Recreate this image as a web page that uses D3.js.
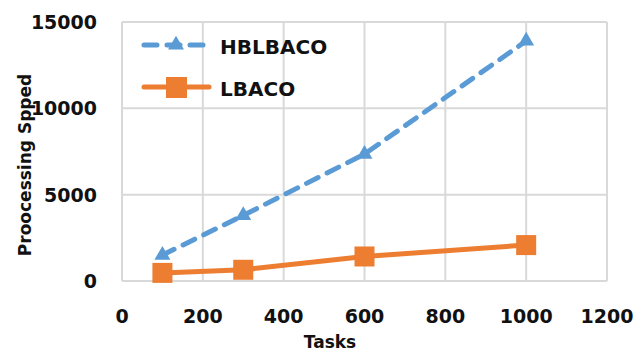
<!DOCTYPE html>
<html>
<head>
<script src="https://d3js.org/d3.v7.min.js"></script>
<style>
  body { margin: 0; background: #fff; }
  text { font-family: "DejaVu Sans", "Open Sans", sans-serif; font-weight: 700; fill: #111; }
</style>
</head>
<body>
<div id="chart"></div>
<script>
// data
var tasks = [100, 300, 600, 1000];
var hblbaco = [1500, 3800, 7350, 13900];
var lbaco = [470, 650, 1420, 2080];
var xTicks = [0, 200, 400, 600, 800, 1000, 1200];
var yTicks = [0, 5000, 10000, 15000];

var width = 637, height = 353;
var margin = {top: 22, right: 30, bottom: 72, left: 122};

var svg = d3.select("#chart").append("svg")
    .attr("width", width)
    .attr("height", height);

var x = d3.scaleLinear().domain([0, 1200]).range([margin.left, 607]);
var y = d3.scaleLinear().domain([0, 15000]).range([281, margin.top]);

// grid
svg.append("g")
  .selectAll("line")
  .data(xTicks)
  .enter().append("line")
    .attr("x1", d => x(d)).attr("x2", d => x(d))
    .attr("y1", y(0)).attr("y2", y(15000))
    .attr("stroke", "#d9d9d9").attr("stroke-width", 2);

svg.append("g")
  .selectAll("line")
  .data(yTicks)
  .enter().append("line")
    .attr("x1", x(0)).attr("x2", x(1200))
    .attr("y1", d => y(d)).attr("y2", d => y(d))
    .attr("stroke", "#d9d9d9").attr("stroke-width", 2);

// tick labels
svg.append("g")
  .selectAll("text")
  .data(xTicks)
  .enter().append("text")
    .attr("x", d => x(d))
    .attr("y", 323)
    .attr("text-anchor", "middle")
    .style("font-size", "19px")
    .text(d => d);

svg.append("g")
  .selectAll("text")
  .data(yTicks)
  .enter().append("text")
    .attr("x", 97)
    .attr("y", d => y(d) + 7)
    .attr("text-anchor", "end")
    .style("font-size", "19px")
    .text(d => d);

// axis titles
svg.append("text")
    .attr("x", 330)
    .attr("y", 348)
    .attr("text-anchor", "middle")
    .style("font-size", "17px")
    .text("Tasks");

svg.append("text")
    .attr("transform", "translate(31,165) rotate(-90)")
    .attr("text-anchor", "middle")
    .style("font-size", "17px")
    .text("Proocessing Spped");

var line = d3.line().x((d, i) => x(tasks[i])).y(d => y(d));

var blue = "#5b9bd5", orange = "#ed7d31";
var tri = d3.symbol().type(d3.symbolTriangle).size(110);

// HBLBACO
svg.append("path")
    .datum(hblbaco)
    .attr("d", line)
    .attr("fill", "none")
    .attr("stroke", blue)
    .attr("stroke-width", 5)
    .attr("stroke-dasharray", "13,10")
    .attr("stroke-linecap", "round");

svg.append("g")
  .selectAll("path")
  .data(hblbaco)
  .enter().append("path")
    .attr("d", tri)
    .attr("transform", (d, i) => "translate(" + x(tasks[i]) + "," + y(d) + ")")
    .attr("fill", blue);

// LBACO
svg.append("path")
    .datum(lbaco)
    .attr("d", line)
    .attr("fill", "none")
    .attr("stroke", orange)
    .attr("stroke-width", 5);

svg.append("g")
  .selectAll("rect")
  .data(lbaco)
  .enter().append("rect")
    .attr("x", (d, i) => x(tasks[i]) - 10)
    .attr("y", d => y(d) - 10)
    .attr("width", 20).attr("height", 20)
    .attr("fill", orange);

// legend
var legend = svg.append("g");
legend.append("line")
    .attr("x1", 144).attr("x2", 209).attr("y1", 45).attr("y2", 45)
    .attr("stroke", blue).attr("stroke-width", 5)
    .attr("stroke-dasharray", "13,10").attr("stroke-linecap", "round");
legend.append("path")
    .attr("d", tri)
    .attr("transform", "translate(176,45)")
    .attr("fill", blue);
legend.append("text")
    .attr("x", 220).attr("y", 54)
    .style("font-size", "20px")
    .text("HBLBACO");

legend.append("line")
    .attr("x1", 144).attr("x2", 209).attr("y1", 87).attr("y2", 87)
    .attr("stroke", orange).attr("stroke-width", 5)
    .attr("stroke-linecap", "round");
legend.append("rect")
    .attr("x", 166).attr("y", 77).attr("width", 21).attr("height", 21)
    .attr("fill", orange);
legend.append("text")
    .attr("x", 220).attr("y", 96)
    .style("font-size", "20px")
    .text("LBACO");
</script>
</body>
</html>
